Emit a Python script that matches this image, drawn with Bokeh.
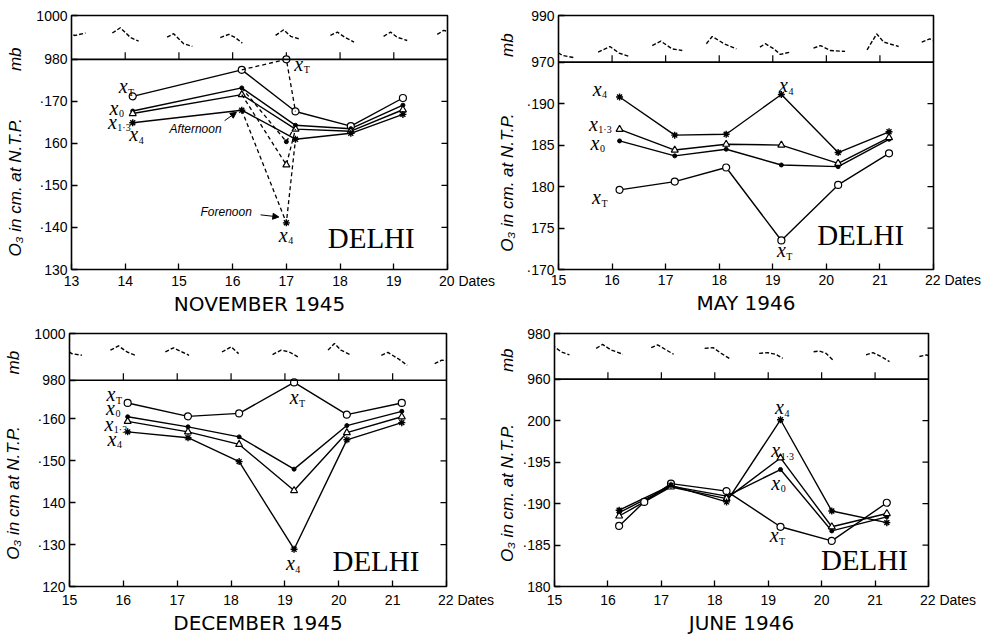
import numpy as np
from bokeh.plotting import figure
from bokeh.models import Range1d, LinearAxis, FixedTicker, Span, Label, Arrow, NormalHead
from bokeh.layouts import row, column
from bokeh.embed import file_html
from bokeh.resources import INLINE

# ---------------- DATA ----------------
# NOVEMBER 1945
NOV_DATES = [14.14, 16.17, 17.17, 18.20, 19.17]
NOV_XT = [171.2, 177.5, 167.6, 164.1, 170.8]
NOV_X0 = [167.7, 173.2, 164.3, 163.5, 169.1]
NOV_X13 = [167.1, 171.6, 163.4, 162.9, 168.0]
NOV_X4 = [164.9, 167.9, 161.0, 162.4, 166.9]
NOV_FORENOON_DATE = 17.0
NOV_FN_XT = 180.0
NOV_FN_X0 = 160.4
NOV_FN_X13 = 154.9
NOV_FN_X4 = 141.1
NOV_P_T = [[12.80, 12.92, 13.07, 13.26], [13.76, 13.91, 14.10, 14.25], [14.78, 14.90, 15.09, 15.25],
           [15.77, 15.93, 16.05, 16.18], [16.80, 16.95, 17.08, 17.23], [17.82, 17.95, 18.10, 18.26],
           [18.81, 18.94, 19.06, 19.25], [19.81, 19.93, 20.06, 20.22]]
NOV_P_MB = [[996.2, 991.7, 990.9, 992.0], [992.0, 994.4, 989.9, 988.3], [990.1, 991.7, 987.1, 985.9],
            [989.9, 991.4, 989.9, 987.4], [990.9, 993.5, 990.5, 989.4], [990.9, 992.4, 989.9, 987.9],
            [990.5, 992.4, 990.1, 988.6], [991.4, 993.2, 992.4, 991.0]]

# MAY 1946
MAY_DATES = [16.14, 17.17, 18.13, 19.16, 20.22, 21.17]
MAY_XT = [179.6, 180.6, 182.3, 173.5, 180.2, 184.0]
MAY_X0 = [185.5, 183.7, 184.5, 182.6, 182.4, 185.7]
MAY_X13 = [186.9, 184.4, 185.1, 185.0, 182.8, 185.9]
MAY_X4 = [190.8, 186.2, 186.3, 191.1, 184.1, 186.6]
MAY_P_T = [[14.80, 14.89, 15.07, 15.29], [15.74, 15.96, 16.13, 16.32], [16.75, 16.91, 17.12, 17.31],
           [17.76, 17.87, 18.09, 18.32], [18.76, 18.86, 19.02, 19.14, 19.33], [19.76, 19.89, 20.07, 20.35],
           [20.76, 20.94, 21.07, 21.35], [21.78, 21.93, 22.09, 22.30]]
MAY_P_MB = [[975.0, 975.7, 972.9, 971.9], [974.3, 976.7, 973.9, 972.4], [977.1, 979.0, 975.7, 975.0],
            [977.9, 981.0, 977.9, 975.7], [976.4, 977.9, 975.7, 973.3, 974.3], [976.0, 977.1, 975.0, 974.6],
            [975.3, 982.1, 978.6, 976.7], [978.6, 980.0, 978.6, 977.6]]

# DECEMBER 1945
DEC_DATES = [16.08, 17.20, 18.15, 19.17, 20.15, 21.17]
DEC_XT = [163.8, 160.6, 161.3, 168.7, 161.0, 163.8]
DEC_X0 = [160.5, 158.1, 155.7, 148.0, 158.4, 161.8]
DEC_X13 = [159.4, 156.9, 153.9, 142.9, 156.7, 160.5]
DEC_X4 = [156.9, 155.5, 149.8, 128.9, 155.0, 159.1]
DEC_P_T = [[14.80, 14.92, 15.04, 15.23], [15.76, 15.91, 16.07, 16.22], [16.78, 16.93, 17.09, 17.22],
           [17.83, 18.00, 18.14], [18.77, 18.93, 19.08, 19.24], [19.80, 19.92, 20.04, 20.23],
           [20.79, 20.91, 21.10, 21.27], [21.78, 21.91, 22.19]]
DEC_P_MB = [[992.9, 993.6, 991.4, 990.7], [992.9, 994.7, 992.1, 990.7], [992.1, 993.9, 992.1, 990.7],
            [992.1, 994.3, 991.4], [991.0, 992.9, 992.1, 990.0], [992.9, 995.7, 992.9, 990.7],
            [990.7, 991.9, 989.3, 986.4], [987.1, 988.6, 987.9]]

# JUNE 1946
JUN_DATES = [16.21, 17.18, 18.22, 19.23, 20.19, 21.22]
JUN_XT_DATES = [16.21, 16.68, 17.18, 18.22, 19.23, 20.19, 21.22]
JUN_XT = [187.3, 190.2, 192.4, 191.5, 187.2, 185.5, 190.1]
JUN_X0 = [188.9, 192.1, 190.9, 194.1, 186.7, 188.4]
JUN_X13 = [188.5, 192.0, 190.6, 195.5, 187.2, 188.8]
JUN_X4 = [189.2, 192.2, 190.2, 200.1, 189.1, 187.7]
JUN_P_T = [[14.85, 15.00, 15.12, 15.28], [15.78, 15.90, 16.06, 16.28], [16.81, 16.93, 17.09, 17.23],
           [17.81, 17.97, 18.12, 18.29], [18.83, 18.99, 19.14, 19.27], [19.85, 19.96, 20.08, 20.21],
           [20.83, 20.96, 21.11, 21.27], [21.83, 21.96, 22.05, 22.18]]
JUN_P_MB = [[976.0, 974.2, 972.0, 970.6], [973.5, 975.2, 972.8, 970.9], [973.8, 975.0, 972.8, 970.9],
            [973.5, 973.8, 971.3, 968.8], [971.3, 971.6, 970.9, 969.1], [972.0, 972.3, 971.3, 968.4],
            [970.6, 971.6, 969.9, 967.7], [969.9, 970.6, 969.9, 967.7]]

# tick labels
NOV_XTICKS = [13, 14, 15, 16, 17, 18, 19, 20]
OTHER_XTICKS = [15, 16, 17, 18, 19, 20, 21, 22]
NOV_YTICKS = {130: "130", 140: "·140", 150: "·150", 160: "160", 170: "·170"}
MAY_YTICKS = {170: "·170", 175: "175", 180: "180", 185: "185", 190: "·190"}
DEC_YTICKS = {120: "120", 130: "·130", 140: "140", 150: "·150", 160: "·160"}
JUN_YTICKS = {180: "180", 185: "·185", 190: "·190", 195: "·195", 200: "200"}
NOV_MB = (980, 1000)
MAY_MB = (970, 990)
DEC_MB = (980, 1000)
JUN_MB = (960, 980)

TICK_FONT = "Liberation Sans"
SERIF = "Liberation Serif"
NB = "\u00a0"
ZW = "\u200b"

MARKERS = {
    "T": dict(marker="circle", size=7, fill_color="white", line_color="black", line_width=1.2),
    "0": dict(marker="circle", size=4, fill_color="black", line_color="black"),
    "1·3": dict(marker="triangle", size=7, fill_color="white", line_color="black", line_width=1.2),
    "4": dict(marker="asterisk", size=7, line_color="black", line_width=1.4),
}


def lab(**kw):
    base = dict(text_color="black", text_align="center", text_baseline="middle")
    base.update(kw)
    return Label(**base)


def xlabel(p, sub, x, y):
    p.add_layout(lab(x=x, y=y, text="x", text_font=SERIF, text_font_style="italic",
                     text_font_size="20px"))
    p.add_layout(lab(x=x, y=y, x_offset=5, y_offset=-6, text=sub, text_font=SERIF,
                     text_font_size="10px", text_align="left"))


def make_panel(cfg):
    bl, fw, br = cfg["bl"], cfg["fw"], cfg["br"]
    bt, h1, h2, bb = cfg["bt"], cfg["h1"], cfg["h2"], cfg["bb"]
    lo, div = cfg["oz_lo"], cfg["oz_div"]
    top = div + h1 * (div - lo) / h2
    mb_lo, mb_hi = cfg["mb"]
    mb_start = mb_lo - h2 * (mb_hi - mb_lo) / h1
    xt = cfg["xticks"]
    p = figure(width=bl + fw + br, height=bt + h1 + h2 + bb,
               x_range=Range1d(xt[0], xt[-1]), y_range=Range1d(lo, top),
               x_axis_type=None, y_axis_type=None,
               output_backend="svg", toolbar_location=None,
               min_border_left=bl, min_border_right=br, min_border_top=bt, min_border_bottom=bb)
    p.extra_y_ranges = {"mb": Range1d(mb_start, mb_hi)}
    p.outline_line_color = "black"
    p.outline_line_width = 1.6
    p.background_fill_color = "white"
    p.border_fill_color = "white"

    yt = cfg["yticks"]
    ticks = list(yt.keys()) + [div, top]
    overrides = dict(yt)
    overrides[div] = str(mb_lo)
    overrides[top] = str(mb_hi)
    caption = (ZW + NB * cfg["cap_lead"] + cfg["o3_text"] + NB * cfg["cap_gap"] + "mb"
               + NB * cfg["cap_trail"] + ZW)
    yax = LinearAxis(ticker=FixedTicker(ticks=ticks), major_label_overrides=overrides,
                     axis_line_color=None, major_tick_in=6, major_tick_out=0,
                     minor_tick_in=0, minor_tick_out=0, major_tick_line_width=1.3,
                     major_label_text_font=TICK_FONT, major_label_text_font_size="14px",
                     major_label_standoff=4, major_label_text_color="black",
                     axis_label=caption, axis_label_text_font=TICK_FONT,
                     axis_label_text_font_style="italic", axis_label_text_font_size="17px",
                     axis_label_standoff=cfg["cap_standoff"], axis_label_text_color="black")
    p.add_layout(yax, "left")
    last = xt[-1]
    xax = LinearAxis(ticker=FixedTicker(ticks=xt),
                     major_label_overrides={last: NB * 10 + str(last) + NB + "Dates"},
                     axis_line_color=None, major_tick_in=6, major_tick_out=0,
                     minor_tick_in=0, minor_tick_out=0, major_tick_line_width=1.3,
                     major_label_text_font=TICK_FONT, major_label_text_font_size="14px",
                     major_label_standoff=cfg["xl_standoff"], major_label_text_color="black",
                     axis_label=cfg["title"], axis_label_text_font="DejaVu Sans",
                     axis_label_text_font_style="normal", axis_label_text_font_size="20px",
                     axis_label_standoff=cfg["title_standoff"], axis_label_text_color="black")
    p.add_layout(xax, "below")

    # right-side inward ticks
    ytk = list(yt.keys())
    p.ray(x=[xt[-1]] * len(ytk), y=ytk, length=6, length_units="screen", angle=np.pi,
          line_color="black", line_width=1.2)
    # divider between pressure strip and ozone part
    p.add_layout(Span(location=div, dimension="width", line_color="black", line_width=1.6))
    p.ray(x=xt[1:-1], y=[div] * (len(xt) - 2), length=7, length_units="screen",
          angle=np.pi / 2, line_color="black", line_width=1.2)

    # barograph traces
    p.multi_line(xs=cfg["p_t"], ys=cfg["p_mb"], y_range_name="mb", line_color="black",
                 line_width=1.4, line_dash="4 2")

    # ozone series
    for sub, dates, vals in cfg["series"]:
        p.line(dates, vals, line_color="black", line_width=1.4)
    for sub, dates, vals in cfg["series"]:
        p.scatter(dates, vals, **MARKERS[sub])

    for sub, x, y in cfg["labels"]:
        xlabel(p, sub, x, y)

    dx, dy = cfg["delhi"]
    p.add_layout(lab(x=dx, y=dy, text="DELHI", text_font=SERIF, text_font_size="29px"))
    return p


nov_cfg = dict(bl=71, fw=376, br=48, bt=15, h1=44, h2=211, bb=48, oz_lo=130, oz_div=180,
               mb=NOV_MB, xticks=NOV_XTICKS, yticks=NOV_YTICKS, p_t=NOV_P_T, p_mb=NOV_P_MB,
               series=[("T", NOV_DATES, NOV_XT), ("0", NOV_DATES, NOV_X0),
                       ("1·3", NOV_DATES, NOV_X13), ("4", NOV_DATES, NOV_X4)],
               labels=[("T", 13.96, 173.6), ("0", 13.79, 168.5), ("1·3", 13.76, 165.1),
                       ("4", 14.16, 162.2), ("T", 17.23, 178.9), ("4", 16.94, 138.3)],
               delhi=(18.58, 137.5), cap_lead=0, cap_gap=10, cap_trail=4, cap_standoff=8,
               xl_standoff=3, title_standoff=0,
               o3_text="O₃ in cm. at N.T.P.", title="NOVEMBER 1945")
may_cfg = dict(bl=63, fw=375, br=55, bt=15, h1=47, h2=209, bb=47, oz_lo=170, oz_div=195,
               mb=MAY_MB, xticks=OTHER_XTICKS, yticks=MAY_YTICKS, p_t=MAY_P_T, p_mb=MAY_P_MB,
               series=[("T", MAY_DATES, MAY_XT), ("0", MAY_DATES, MAY_X0),
                       ("1·3", MAY_DATES, MAY_X13), ("4", MAY_DATES, MAY_X4)],
               labels=[("4", 15.72, 191.8), ("1·3", 15.65, 187.6), ("0", 15.68, 185.3),
                       ("T", 15.71, 178.7), ("4", 19.2, 192.2), ("T", 19.16, 172.3)],
               delhi=(20.64, 174.1), cap_lead=0, cap_gap=12, cap_trail=0, cap_standoff=6,
               xl_standoff=2, title_standoff=0,
               o3_text="O₃ in cm. at N.T.P.", title="MAY 1946")
dec_cfg = dict(bl=69, fw=377, br=49, bt=15, h1=47, h2=207, bb=50, oz_lo=120, oz_div=169.2,
               mb=DEC_MB, xticks=OTHER_XTICKS, yticks=DEC_YTICKS, p_t=DEC_P_T, p_mb=DEC_P_MB,
               series=[("T", DEC_DATES, DEC_XT), ("0", DEC_DATES, DEC_X0),
                       ("1·3", DEC_DATES, DEC_X13), ("4", DEC_DATES, DEC_X4)],
               labels=[("T", 15.77, 165.9), ("0", 15.76, 162.6), ("1·3", 15.73, 158.8),
                       ("4", 15.79, 155.2), ("T", 19.17, 165.1), ("4", 19.1, 125.5)],
               delhi=(20.69, 126.2), cap_lead=2, cap_gap=11, cap_trail=0, cap_standoff=8,
               xl_standoff=5, title_standoff=0,
               o3_text="O₃ in cm at N.T.P.", title="DECEMBER 1945")
jun_cfg = dict(bl=58, fw=375, br=60, bt=15, h1=46, h2=209, bb=49, oz_lo=180, oz_div=205,
               mb=JUN_MB, xticks=OTHER_XTICKS, yticks=JUN_YTICKS, p_t=JUN_P_T, p_mb=JUN_P_MB,
               series=[("T", JUN_XT_DATES, JUN_XT), ("0", JUN_DATES, JUN_X0),
                       ("1·3", JUN_DATES, JUN_X13), ("4", JUN_DATES, JUN_X4)],
               labels=[("4", 19.21, 201.6), ("1·3", 19.14, 196.4), ("0", 19.14, 192.5),
                       ("T", 19.11, 186.2)],
               delhi=(20.8, 183.2), cap_lead=2, cap_gap=11, cap_trail=0, cap_standoff=2,
               xl_standoff=5, title_standoff=0,
               o3_text="O₃ in cm. at N.T.P.", title="JUNE 1946")

p_nov = make_panel(nov_cfg)
# forenoon (dashed) values on 17 November
fn_vals = [NOV_FN_XT, NOV_FN_X0, NOV_FN_X13, NOV_FN_X4]
aft_series = [NOV_XT, NOV_X0, NOV_X13, NOV_X4]
p_nov.multi_line(xs=[[NOV_DATES[1], NOV_FORENOON_DATE, NOV_DATES[2]] for _ in fn_vals],
                 ys=[[s[1], f, s[2]] for s, f in zip(aft_series, fn_vals)],
                 line_color="black", line_width=1.3, line_dash="4 3")
for sub, f in zip(["T", "0", "1·3", "4"], fn_vals):
    p_nov.scatter([NOV_FORENOON_DATE], [f], **MARKERS[sub])
p_nov.add_layout(lab(x=15.31, y=163.4, text="Afternoon", text_font=TICK_FONT,
                     text_font_style="italic", text_font_size="12px"))
p_nov.add_layout(lab(x=15.88, y=143.7, text="Forenoon", text_font=TICK_FONT,
                     text_font_style="italic", text_font_size="12px"))
p_nov.add_layout(Arrow(end=NormalHead(size=6, fill_color="black", line_color="black"),
                       x_start=15.85, y_start=165.4, x_end=16.07, y_end=167.4,
                       line_color="black", line_width=1))
p_nov.add_layout(Arrow(end=NormalHead(size=6, fill_color="black", line_color="black"),
                       x_start=16.52, y_start=143.0, x_end=16.86, y_end=142.5,
                       line_color="black", line_width=1))

p_may = make_panel(may_cfg)
p_dec = make_panel(dec_cfg)
p_jun = make_panel(jun_cfg)

layout = column(row(p_nov, p_may), row(p_dec, p_jun))
open("out.html", "w").write(file_html(layout, INLINE))
